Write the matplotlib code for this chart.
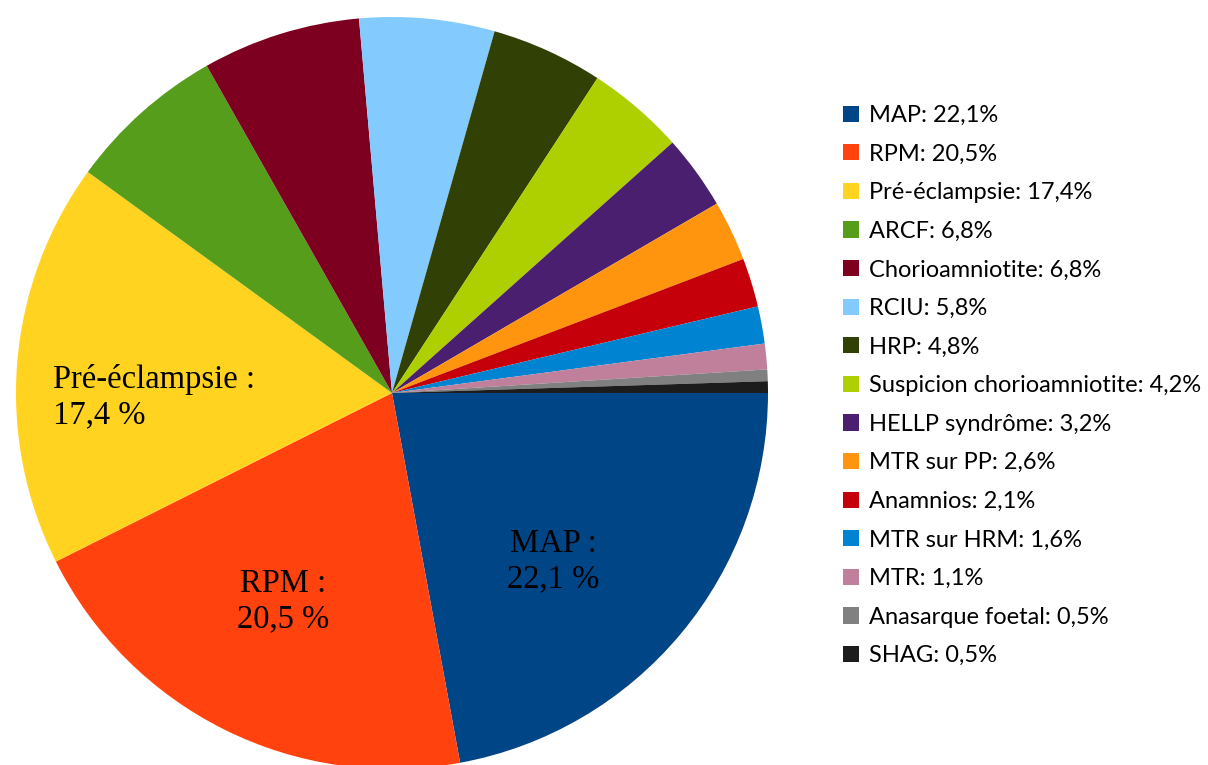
import matplotlib
matplotlib.use("Agg")
import matplotlib.pyplot as plt

CAUSES = ["MAP", "RPM", "Pré-éclampsie", "ARCF", "Chorioamniotite", "RCIU",
          "HRP", "Suspicion chorioamniotite", "HELLP syndrôme", "MTR sur PP",
          "Anamnios", "MTR sur HRM", "MTR", "Anasarque foetal", "SHAG"]
PERCENTS = [22.1, 20.5, 17.4, 6.8, 6.8, 5.8, 4.8, 4.2, 3.2, 2.6, 2.1, 1.6,
            1.1, 0.5, 0.5]
COLORS = ["#004586", "#ff420e", "#ffd320", "#579d1c", "#7e0021", "#83caff",
          "#314004", "#aecf00", "#4b1f6f", "#ff950e", "#c5000b", "#0084d1",
          "#c0809c", "#808080", "#1c1c1c"]

# labels written inside the three biggest slices
INNER_LABELS = {"MAP": (0.428, -0.447, "center"),
                "RPM": (-0.29, -0.555, "center"),
                "Pré-éclampsie": (-0.902, -0.012, "left")}

W, H = 1208, 765


def fmt(v: float) -> str:
    """French decimal comma"""
    return ("%.1f" % v).replace(".", ",")


fig = plt.figure(figsize=(W / 100, H / 100), dpi=100)

# pie centre (392, 393) px, radius 376 px
cx, cy, r = 392, 393, 376
ax = fig.add_axes([(cx - r) / W, (H - cy - r) / H, 2 * r / W, 2 * r / H])
wedges, _ = ax.pie(PERCENTS, colors=COLORS, startangle=0, counterclock=False,
                   radius=1, wedgeprops=dict(linewidth=0))
ax.set_xlim(-1, 1)
ax.set_ylim(-1, 1)
ax.axis("off")

for name, (x, y, ha) in INNER_LABELS.items():
    v = PERCENTS[CAUSES.index(name)]
    ax.text(x, y, "%s :\n%s %%" % (name, fmt(v)), ha=ha, va="center",
            family="Liberation Serif", fontsize=23.5, linespacing=1.2)

labels = ["%s: %s%%" % (n, fmt(v)) for n, v in zip(CAUSES, PERCENTS)]
fig.legend(wedges, labels, loc="upper left",
           bbox_to_anchor=(843 / W, 1 - 105 / H), frameon=False,
           prop=dict(family="Lato", size=17),
           handlelength=0.68, handleheight=0.68, handletextpad=0.42,
           labelspacing=0.745, borderpad=0, borderaxespad=0)

fig.savefig("out.png", dpi=100)
